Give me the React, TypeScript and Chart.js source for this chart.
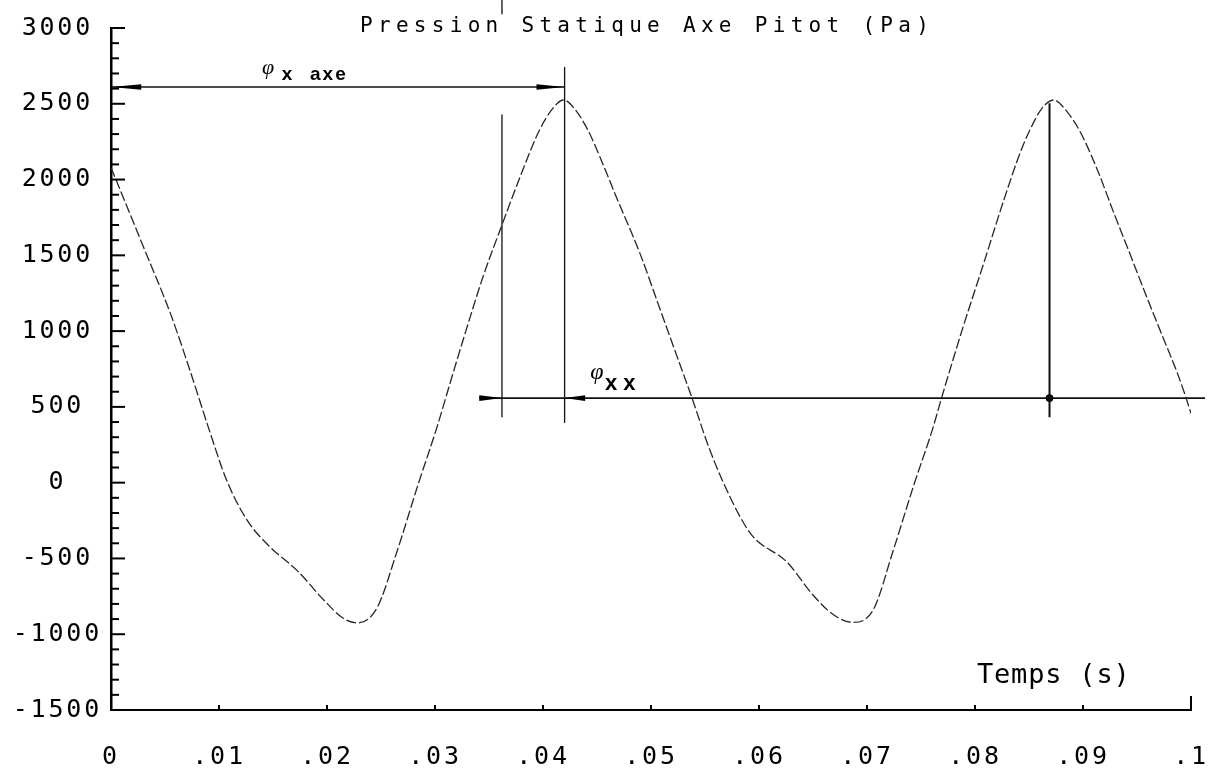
import React, { useEffect, useRef } from "react";
import { Chart, registerables } from "chart.js";

Chart.register(...registerables);

// ---- curve data: time (s) and static pressure (Pa) ----
const timeS = [
  0, 0.003, 0.0055, 0.0073, 0.0092, 0.0107, 0.0126, 0.0147, 0.0172, 0.0197,
  0.0215, 0.0228, 0.0246, 0.0265, 0.0284, 0.0302, 0.0314, 0.0326, 0.0345, 0.0362,
  0.038, 0.0397, 0.0408, 0.0419, 0.043, 0.0442, 0.0455, 0.0467, 0.049, 0.0508,
  0.0524, 0.0538, 0.0552, 0.0567, 0.0592, 0.0626, 0.065, 0.0669, 0.0687, 0.0706,
  0.0724, 0.0743, 0.0761, 0.0769, 0.0789, 0.0808, 0.0826, 0.0842, 0.0851, 0.0862,
  0.0873, 0.0885, 0.0897, 0.0913, 0.0928, 0.0944, 0.0959, 0.0974, 0.0987, 0.0994,
  0.1,
];
const pressurePa = [
  2080, 1556, 1117, 743, 325, 17, -247, -423, -577, -774,
  -895, -925, -830, -450, -20, 370, 658, 941, 1370, 1700,
  2040, 2330, 2460, 2525, 2460, 2320, 2110, 1900, 1508, 1152,
  835, 558, 264, 0, -334, -525, -741, -872, -922, -836,
  -454, -23, 360, 558, 1028, 1446, 1850, 2180, 2330, 2470,
  2525, 2450, 2320, 2070, 1790, 1500, 1225, 960, 730, 590,
  457,
];

// ---- axes ----
const X_MIN = 0;
const X_MAX = 0.1;
const Y_MIN = -1500;
const Y_MAX = 3000;
const xTickLabels = ["0", ".01", ".02", ".03", ".04", ".05", ".06", ".07", ".08", ".09", ".1"];
const yTickLabels = ["-1500", "-1000", "-500", "0", "500", "1000", "1500", "2000", "2500", "3000"];

// ---- annotation guide lines (data units) ----
const axeGuideT = [0, 0.042];
const axeGuideP = [2611, 2611];
const peak1LineT = [0.042, 0.042];
const peak1LineP = [2743, 393];
const refLineT = [0.0362, 0.0362];
const refLineP = [2430, 432];
const refMarkT = [0.0362, 0.0362];
const refMarkP = [3188, 3090];
const xxGuideT = [0.0341, 0.1013];
const xxGuideP = [558, 558];
const peak2LineT = [0.0869, 0.0869];
const peak2LineP = [2503, 432];
const peak2DotT = [0.0869];
const peak2DotP = [558];

// arrowheads: tip, base, level
const arrowTipT = [0, 0.042, 0.0362, 0.042];
const arrowBaseT = [0.0028, 0.0394, 0.0341, 0.0439];
const arrowLevelP = [2611, 2611, 558, 558];

const TITLE = "Pression Statique Axe Pitot (Pa)";
const X_TITLE = "Temps (s)";

const TICK_SPACING = "2.8px";

const pts = (xs: number[], ys: number[]) => xs.map((x, i) => ({ x, y: ys[i] }));

const seg = (xs: number[], ys: number[], w: number) => ({
  data: pts(xs, ys),
  borderColor: "#111",
  borderWidth: w,
  pointRadius: 0,
  showLine: true,
  tension: 0,
  clip: false as any,
});

const decorPlugin = {
  id: "decor",
  beforeLayout(chart: any) {
    chart.ctx.letterSpacing = TICK_SPACING;
  },
  beforeDraw(chart: any) {
    chart.ctx.letterSpacing = TICK_SPACING;
  },
  afterDraw(chart: any) {
    const { ctx, chartArea: a, scales } = chart;
    const xs = scales.x;
    const ys = scales.y;
    ctx.save();
    ctx.letterSpacing = "0px";
    ctx.strokeStyle = "#000";
    ctx.fillStyle = "#000";
    ctx.lineCap = "butt";
    // inward y ticks (major every 500, minor every 100)
    ctx.lineWidth = 2;
    for (let v = Y_MIN + 100; v <= Y_MAX; v += 100) {
      const py = ys.getPixelForValue(v);
      const len = v % 500 === 0 ? 14 : 8;
      ctx.beginPath();
      ctx.moveTo(a.left, py);
      ctx.lineTo(a.left + len, py);
      ctx.stroke();
    }
    // inward x ticks
    for (let i = 1; i < xTickLabels.length; i++) {
      const v = X_MIN + ((X_MAX - X_MIN) * i) / (xTickLabels.length - 1);
      const px = xs.getPixelForValue(v);
      const len = i === xTickLabels.length - 1 ? 14 : 5;
      ctx.beginPath();
      ctx.moveTo(px, a.bottom);
      ctx.lineTo(px, a.bottom - len);
      ctx.stroke();
    }
    // arrowheads
    for (let i = 0; i < arrowTipT.length; i++) {
      const tx = xs.getPixelForValue(arrowTipT[i]);
      const bx = xs.getPixelForValue(arrowBaseT[i]);
      const py = ys.getPixelForValue(arrowLevelP[i]);
      ctx.beginPath();
      ctx.moveTo(tx, py);
      ctx.lineTo(bx, py - 2.8);
      ctx.lineTo(bx, py + 2.8);
      ctx.closePath();
      ctx.fill();
    }
    // title
    ctx.font = "21px 'DejaVu Sans Mono', monospace";
    ctx.textAlign = "left";
    ctx.textBaseline = "alphabetic";
    ctx.letterSpacing = "5.3px";
    ctx.fillText(TITLE, a.left + 249, a.top + 4);
    // x axis title
    ctx.font = "27px 'DejaVu Sans Mono', monospace";
    ctx.letterSpacing = "0.8px";
    ctx.fillText(X_TITLE, a.right - 214, a.bottom - 27);
    // phi x axe
    ctx.letterSpacing = "0px";
    ctx.font = "italic 22px 'Liberation Serif', serif";
    ctx.textAlign = "center";
    ctx.textBaseline = "middle";
    ctx.fillText("\u03C6", xs.getPixelForValue(0.01454), ys.getPixelForValue(2735));
    ctx.font = "bold 19px 'Liberation Sans', sans-serif";
    ctx.textAlign = "left";
    ctx.textBaseline = "alphabetic";
    ctx.fillText("x", xs.getPixelForValue(0.0158), ys.getPixelForValue(2656));
    ctx.letterSpacing = "2px";
    ctx.fillText("axe", xs.getPixelForValue(0.01843), ys.getPixelForValue(2656));
    // phi xx
    ctx.letterSpacing = "0px";
    ctx.font = "italic 24px 'Liberation Serif', serif";
    ctx.textAlign = "center";
    ctx.textBaseline = "middle";
    ctx.fillText("\u03C6", xs.getPixelForValue(0.045), ys.getPixelForValue(723));
    ctx.font = "bold 22px 'Liberation Sans', sans-serif";
    ctx.textAlign = "left";
    ctx.textBaseline = "alphabetic";
    ctx.fillText("x x", xs.getPixelForValue(0.04574), ys.getPixelForValue(611));
    ctx.restore();
  },
};

export default function App() {
  const ref = useRef<HTMLCanvasElement | null>(null);

  useEffect(() => {
    if (!ref.current) return;
    const tickFont = { family: "'DejaVu Sans Mono', monospace", size: 25 };
    const chart = new Chart(ref.current, {
      type: "line",
      data: {
        datasets: [
          {
            data: pts(timeS, pressurePa),
            borderColor: "#262626",
            borderWidth: 1.3,
            borderDash: [10, 3],
            pointRadius: 0,
            cubicInterpolationMode: "monotone",
          } as any,
          seg(axeGuideT, axeGuideP, 1.5),
          seg(peak1LineT, peak1LineP, 1.3),
          seg(refLineT, refLineP, 1.3),
          seg(refMarkT, refMarkP, 1.3),
          seg(xxGuideT, xxGuideP, 1.8),
          seg(peak2LineT, peak2LineP, 2),
          {
            data: pts(peak2DotT, peak2DotP),
            showLine: false,
            pointRadius: 3.5,
            pointBackgroundColor: "#000",
            pointBorderColor: "#000",
            clip: false,
          } as any,
        ],
      },
      options: {
        animation: false,
        responsive: false,
        events: [],
        layout: { padding: { top: 28, right: 18, left: 0, bottom: 0 }, autoPadding: false } as any,
        plugins: {
          legend: { display: false },
          tooltip: { enabled: false },
          title: { display: false },
        },
        scales: {
          x: {
            type: "linear",
            min: X_MIN,
            max: X_MAX,
            grid: { display: false, drawTicks: false },
            border: { display: true, color: "#000", width: 2 },
            ticks: {
              stepSize: 0.01,
              autoSkip: false,
              maxRotation: 0,
              padding: 32,
              color: "#000",
              font: tickFont,
              callback: (_v: any, i: number) => xTickLabels[i] ?? "",
            },
            afterFit: (s: any) => {
              s.height = 63;
              s.paddingLeft = 0;
              s.paddingRight = 0;
            },
          },
          y: {
            type: "linear",
            min: Y_MIN,
            max: Y_MAX,
            grid: { display: false, drawTicks: false },
            border: { display: true, color: "#000", width: 2.5 },
            ticks: {
              stepSize: 500,
              padding: 9,
              crossAlign: "center",
              color: "#000",
              font: tickFont,
              callback: (_v: any, i: number) => yTickLabels[i] ?? "",
            },
            afterFit: (s: any) => {
              s.width = 111;
              s.paddingTop = 0;
              s.paddingBottom = 0;
            },
          },
        },
      } as any,
      plugins: [decorPlugin],
    });
    return () => chart.destroy();
  }, []);

  return (
    <div style={{ position: "fixed", left: 0, top: 0, width: 1209, height: 773, background: "#fff" }}>
      <canvas ref={ref} width={1209} height={773} style={{ display: "block" }} />
    </div>
  );
}
